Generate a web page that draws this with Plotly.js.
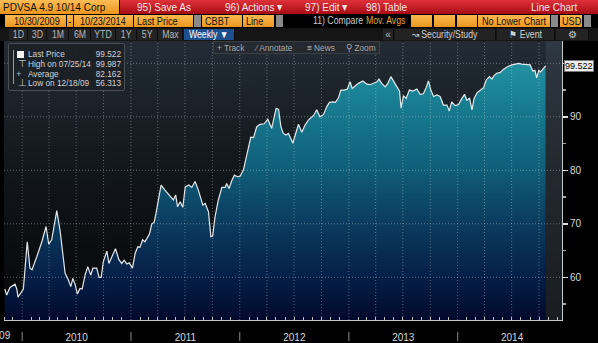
<!DOCTYPE html>
<html><head><meta charset="utf-8">
<script src="https://cdn.plot.ly/plotly-3.0.1.min.js"></script>
<style>
html,body{margin:0;padding:0;background:#000;width:598px;height:343px;overflow:hidden;font-family:"Liberation Sans",Arial,sans-serif;}
#chart{position:absolute;left:0;top:0;width:598px;height:343px;}
.a{position:absolute;white-space:nowrap;box-sizing:border-box;}
.n{display:inline-block;transform:scaleX(0.87);transform-origin:left center;}
.c{display:inline-block;transform:scaleX(0.87);transform-origin:center center;}
.ob{background:linear-gradient(#f9b84f,#eb9720);color:#111;font-size:10.5px;line-height:12px;padding-left:3px;height:12px;top:15px;overflow:hidden;}
.gd{background:#8a8a8a;height:12px;top:15px;width:7px;}
.rt{color:#f6e6e6;font-size:11.5px;line-height:14px;top:0;}
.b3{top:29px;height:11px;line-height:11px;font-size:10px;color:#b8b8b8;background:#232323;text-align:center;border-right:1px solid #0c0c0c;}
.leg{color:#d2d2d2;font-size:9.5px;line-height:10px;}
.tb{top:42px;font-size:9.5px;line-height:11px;color:#a8a8a8;}
</style></head><body>
<div id="chart"></div>

<!-- header row 1 -->
<div class="a" style="left:0;top:0;width:119px;height:14px;background:linear-gradient(#fbbd55,#ea951c);color:#111;font-size:11.5px;line-height:14px;padding-left:3px;"><span class="n">PDVSA 4.9 10/14 Corp</span></div>
<div class="a" style="left:120px;top:0;width:478px;height:14px;background:linear-gradient(#e0323a,#a70c14);"></div>
<div class="a rt" style="left:137px;"><span class="n">95) Save As</span></div>
<div class="a rt" style="left:225px;"><span class="n">96) Actions &#9662;</span></div>
<div class="a rt" style="left:305px;"><span class="n">97) Edit &#9662;</span></div>
<div class="a rt" style="left:366px;"><span class="n">98) Table</span></div>
<div class="a rt" style="left:531px;"><span class="n">Line Chart</span></div>

<!-- header row 2 -->
<div class="a ob" style="left:5px;width:61px;padding-left:9px;"><span class="n">10/30/2009</span></div>
<div class="a ob" style="left:67px;width:6px;padding-left:1px;">-</div>
<div class="a ob" style="left:74px;width:59px;padding-left:6px;"><span class="n">10/23/2014</span></div>
<div class="a ob" style="left:134px;width:59px;"><span class="n">Last Price</span></div>
<div class="a gd" style="left:194px;"></div>
<div class="a ob" style="left:202px;width:40px;"><span class="n">CBBT</span></div>
<div class="a ob" style="left:243px;width:31px;"><span class="n">Line</span></div>
<div class="a gd" style="left:276px;"></div>
<div class="a" style="left:313px;top:15px;font-size:10px;line-height:12px;color:#c8c8c8;"><span class="n">11) Compare</span></div>
<div class="a" style="left:366px;top:15px;font-size:10px;line-height:12px;color:#e8a030;"><span class="n">Mov. Avgs</span></div>
<div class="a ob" style="left:411px;width:21px;"></div>
<div class="a ob" style="left:434px;width:21px;"></div>
<div class="a ob" style="left:457px;width:20px;"></div>
<div class="a ob" style="left:478px;width:72px;padding-left:4px;"><span class="n">No Lower Chart</span></div>
<div class="a gd" style="left:551px;"></div>
<div class="a ob" style="left:560px;width:22px;padding-left:2px;"><span class="n">USD</span></div>
<div class="a gd" style="left:584px;"></div>

<!-- header row 3 -->
<div class="a" style="left:0;top:28px;width:598px;height:13px;background:#151515;"></div>
<div class="a b3" style="left:9px;width:19px;"><span class="c">1D</span></div>
<div class="a b3" style="left:28px;width:19px;"><span class="c">3D</span></div>
<div class="a b3" style="left:47px;width:22px;"><span class="c">1M</span></div>
<div class="a b3" style="left:69px;width:22px;"><span class="c">6M</span></div>
<div class="a b3" style="left:91px;width:25px;"><span class="c">YTD</span></div>
<div class="a b3" style="left:116px;width:21px;"><span class="c">1Y</span></div>
<div class="a b3" style="left:137px;width:21px;"><span class="c">5Y</span></div>
<div class="a b3" style="left:158px;width:25px;"><span class="c">Max</span></div>
<div class="a b3" style="left:184px;width:51px;background:#1d4f8f;color:#fff;"><span class="c">Weekly &#9660;</span></div>
<div class="a b3" style="left:383px;width:11px;">&#171;</div>
<div class="a b3" style="left:395px;width:101px;color:#d0d0d0;"><span class="c">&#8605; Security/Study</span></div>
<div class="a b3" style="left:497px;width:58px;color:#d0d0d0;"><span class="c">&#9873; Event</span></div>
<div class="a b3" style="left:556px;width:33px;color:#d0d0d0;">&#9881;</div>

<!-- chart toolbar -->
<div class="a" style="left:213px;top:41px;width:167px;height:13px;background:rgba(38,42,48,0.9);border:1px solid #3a3f46;"></div>
<div class="a tb" style="left:217px;"><span class="n">+ Track</span></div>
<div class="a tb" style="left:256px;"><span class="n">&#8260; Annotate</span></div>
<div class="a tb" style="left:307px;"><span class="n">&#8801; News</span></div>
<div class="a tb" style="left:346px;"><span class="n">&#9906; Zoom</span></div>

<!-- legend box -->
<div class="a" style="left:8px;top:43px;width:117px;height:48px;background:rgba(28,33,39,0.92);border:1px solid #4a4f56;border-radius:2px;"></div>
<div class="a" style="left:13px;top:50px;width:1px;height:34px;background:#9a9a9a;"></div>
<div id="legrows"></div>

<script>
// ---- data (weekly last price) ----
const dates = [
'2009-11-04','2009-11-10','2009-11-21','2009-12-08','2009-12-14','2009-12-18',
'2010-01-05','2010-01-18','2010-01-27','2010-02-03','2010-02-19','2010-03-08','2010-03-22','2010-03-31','2010-04-10','2010-04-27','2010-05-08','2010-05-15','2010-05-25','2010-06-05','2010-06-13','2010-06-20','2010-06-28','2010-07-05','2010-07-14','2010-07-21','2010-07-31','2010-08-09','2010-08-19','2010-08-26','2010-09-08','2010-09-16','2010-09-23','2010-09-30','2010-10-12','2010-10-19','2010-10-29','2010-11-10','2010-11-21','2010-12-01','2010-12-09','2010-12-18','2010-12-26',
'2011-01-06','2011-01-15','2011-01-24','2011-01-31','2011-02-09','2011-02-17','2011-02-25','2011-03-04','2011-03-12','2011-03-20','2011-03-28','2011-04-12','2011-04-25','2011-05-12','2011-05-23','2011-05-31','2011-06-06','2011-06-15','2011-06-24','2011-07-02','2011-07-14','2011-07-24','2011-08-04','2011-08-15','2011-08-30','2011-09-07','2011-09-18','2011-09-26','2011-10-02','2011-10-10','2011-10-21','2011-11-02','2011-11-13','2011-11-18','2011-11-26','2011-12-05','2011-12-14','2011-12-24',
'2012-01-02','2012-01-13','2012-01-25','2012-02-07','2012-02-16','2012-02-27','2012-03-09','2012-03-23','2012-04-04','2012-04-17','2012-05-02','2012-05-10','2012-05-18','2012-05-26','2012-06-04','2012-06-12','2012-06-20','2012-06-27','2012-07-05','2012-07-16','2012-07-27','2012-08-07','2012-08-18','2012-08-30','2012-09-06','2012-09-15','2012-09-26','2012-10-08','2012-10-19','2012-10-28','2012-11-08','2012-11-17','2012-11-27','2012-12-05','2012-12-16','2012-12-27',
'2013-01-05','2013-01-12','2013-01-23','2013-02-02','2013-02-17','2013-03-02','2013-03-13','2013-03-24','2013-04-05','2013-04-12','2013-04-21','2013-05-03','2013-05-10','2013-05-22','2013-06-02','2013-06-11','2013-06-20','2013-06-25','2013-07-03','2013-07-12','2013-07-23','2013-08-04','2013-08-17','2013-08-28','2013-09-08','2013-09-17','2013-09-25','2013-10-03','2013-10-12','2013-10-23','2013-11-03','2013-11-14','2013-11-26','2013-12-04','2013-12-12','2013-12-23',
'2014-01-04','2014-01-15','2014-01-24','2014-02-01','2014-02-10','2014-02-18','2014-02-25','2014-03-08','2014-03-20','2014-03-29','2014-04-07','2014-04-18','2014-04-26','2014-05-03','2014-05-12','2014-05-24','2014-06-04','2014-06-17','2014-07-02','2014-07-19','2014-07-25','2014-08-04','2014-08-21','2014-09-01','2014-09-10','2014-09-17','2014-09-23','2014-09-30','2014-10-06','2014-10-15','2014-10-23'];
const prices = [
57.8,56.7,58.1,58.7,57.8,56.31,
57.8,66.65,61.7,61.4,63.85,66.65,69.5,66.2,67.0,72.45,68.8,65.1,60.75,59.5,58.25,59.8,58.6,56.9,57.9,57.8,60.4,62.0,60.4,61.7,61.7,60.0,60.0,62.9,64.9,62.6,63.85,65.35,63.35,62.6,63.2,62.5,62.7,
61.7,64.5,65.7,65.6,67.0,66.65,67.6,68.1,70.0,70.3,72.6,77.25,76.3,75.2,74.45,75.4,73.2,74.1,73.1,76.9,77.25,76.8,77.9,76.3,73.5,73.8,72.25,67.6,67.7,71.3,74.45,76.8,76.8,77.55,76.6,78.05,79.1,78.8,
78.9,80.05,82.85,86.2,86.1,88.15,88.6,88.7,89.55,87.85,91.6,91.4,88.15,86.9,86.6,86.9,86.0,85.05,86.6,88.6,87.1,88.45,89.4,90.0,90.35,91.3,90.0,90.45,91.9,92.7,92.8,92.7,93.55,95.0,95.0,95.2,
96.55,95.3,95.8,96.25,96.7,96.1,96.0,96.25,96.55,97.05,96.25,95.6,96.1,97.5,96.55,95.6,94.8,91.6,93.95,93.45,95.0,94.8,95.2,94.2,94.3,95.45,96.7,95.0,93.8,94.1,93.8,92.2,92.2,91.1,92.8,92.1,
92.3,93.45,94.2,93.1,93.45,91.3,93.45,94.55,95.15,95.45,96.9,97.5,97.05,97.7,98.15,98.3,98.9,99.35,99.7,99.85,99.99,99.85,99.8,99.7,98.55,98.7,97.3,98.7,98.4,99.05,99.52];

const yTickVals = [60, 70, 80, 90, 100];
const yTickText = ['60', '70', '80', '90', ''];
const yMinorVals = [55, 65, 75, 85, 95];
const gridYears = [2010, 2011, 2012, 2013, 2014];
const lastPriceLabel = '99.522';
const statLabels = ['Last Price', 'High on 07/25/14', 'Average', 'Low on 12/18/09'];
const statValues = ['99.522', '99.987', '82.162', '56.313'];
const statIcons = ['', '\u22A4', '+', '\u22A5'];

// ---- legend rows ----
const lr = document.getElementById('legrows');
statLabels.forEach((s, i) => {
  const top = 49 + i * 9.8;
  let html = '';
  if (i === 0) html += `<div class="a" style="left:17px;top:${top+1.5}px;width:7px;height:7px;background:#f4f4f4;"></div>`;
  else html += `<div class="a leg" style="left:${i===2?16:18}px;top:${top}px;color:#bdbdbd;">${statIcons[i]}</div>`;
  html += `<div class="a leg" style="left:28px;top:${top}px;"><span class="n">${s}</span></div>`;
  html += `<div class="a leg" style="left:90px;top:${top}px;width:31px;text-align:right;"><span class="n" style="transform-origin:right center;">${statValues[i]}</span></div>`;
  lr.insertAdjacentHTML('beforeend', html);
});

// ---- background gradient of plot area ----
const bgSvg = 'data:image/svg+xml;charset=utf-8,' + encodeURIComponent(
 '<svg xmlns="http://www.w3.org/2000/svg" width="10" height="100" viewBox="0 0 10 100" preserveAspectRatio="none"><defs><linearGradient id="g" x1="0" y1="0" x2="0" y2="1"><stop offset="0" stop-color="#232c35"/><stop offset="0.45" stop-color="#12171c"/><stop offset="1" stop-color="#050607"/></linearGradient></defs><rect width="10" height="100" fill="url(#g)"/></svg>');

const shapes = [];
const gridLine = {color: 'rgba(215,220,225,0.38)', width: 1, dash: '1px,2px'};
gridYears.forEach(y => {
  ['01', '04', '07', '10'].forEach(m => {
    shapes.push({type: 'line', xref: 'x', yref: 'paper', x0: `${y}-${m}-01`, x1: `${y}-${m}-01`, y0: 0, y1: 1, line: gridLine, layer: 'above'});
  });
  shapes.push({type: 'line', xref: 'x', yref: 'paper', x0: `${y}-01-01`, x1: `${y}-01-01`, y0: -0.043, y1: -0.075, line: {color: '#8a8a8a', width: 1}, layer: 'above'});
});
yTickVals.forEach(v => {
  shapes.push({type: 'line', xref: 'paper', yref: 'y', x0: 0, x1: 1, y0: v, y1: v, line: gridLine, layer: 'above'});
});
// empty band after last data point
shapes.push({type: 'rect', xref: 'x', yref: 'paper', x0: dates[dates.length - 1], x1: '2014-12-17', y0: 0, y1: 1, fillcolor: 'rgba(80,90,100,0.28)', line: {width: 0}, layer: 'below'});

const trace = {
  type: 'scatter', mode: 'lines', x: dates, y: prices,
  line: {color: '#e4e8ea', width: 1.2},
  fill: 'tozeroy',
  fillgradient: {type: 'vertical', start: 52, stop: 100,
    colorscale: [[0, '#020a2c'], [0.17, '#061f48'], [0.38, '#0b3c5f'], [0.6, '#10607a'], [0.82, '#177a8e'], [1, '#2192a2']]},
  hoverinfo: 'skip'
};

const axFont = {family: 'Liberation Sans, Arial, sans-serif', size: 10, color: '#d8d8d8'};
const layout = {
  width: 598, height: 343,
  margin: {l: 4, r: 36, t: 41, b: 23},
  paper_bgcolor: 'rgba(0,0,0,0)', plot_bgcolor: 'rgba(0,0,0,0)',
  showlegend: false,
  images: [{source: bgSvg, xref: 'paper', yref: 'paper', x: 0, y: 1, sizex: 1, sizey: 1, sizing: 'stretch', xanchor: 'left', yanchor: 'top', layer: 'below'}],
  xaxis: {
    type: 'date', range: ['2009-11-01', '2014-12-17'],
    showgrid: false, zeroline: false, showline: true, linecolor: '#c8c8c8', linewidth: 1,
    ticks: '', dtick: 'M12', tick0: '2010-01-01', tickformat: '%Y', ticklabelmode: 'period',
    ticklabelstandoff: 8,
    tickfont: axFont,
    minor: {dtick: 'M1', tick0: '2010-01-01', ticks: 'inside', ticklen: 3, tickcolor: '#bbbbbb', showgrid: false},
    fixedrange: true
  },
  yaxis: {
    side: 'right', range: [52.02, 104.17],
    tickvals: yTickVals, ticktext: yTickText,
    showgrid: false, zeroline: false, showline: true, linecolor: '#c8c8c8', linewidth: 1,
    ticks: 'outside', ticklen: 5, tickwidth: 1.5, tickcolor: '#e0e0e0',
    minor: {tickvals: yMinorVals, ticks: 'outside', ticklen: 3, tickcolor: '#aaaaaa', showgrid: false},
    tickfont: axFont, fixedrange: true
  },
  shapes: shapes,
  annotations: [
    {xref: 'paper', x: 1, xanchor: 'left', xshift: 2, yref: 'y', y: prices[prices.length - 1], text: lastPriceLabel, showarrow: false,
     bgcolor: '#eeeeee', bordercolor: '#777', borderwidth: 1, borderpad: 0, font: {family: 'Liberation Sans, Arial, sans-serif', size: 9, color: '#000'}},
    {xref: 'paper', x: 0.016, xanchor: 'right', yref: 'paper', y: -0.057, yanchor: 'middle', text: '2009', showarrow: false, font: axFont}
  ]
};

Plotly.newPlot('chart', [trace], layout, {staticPlot: true, displayModeBar: false});
</script>
</body></html>
